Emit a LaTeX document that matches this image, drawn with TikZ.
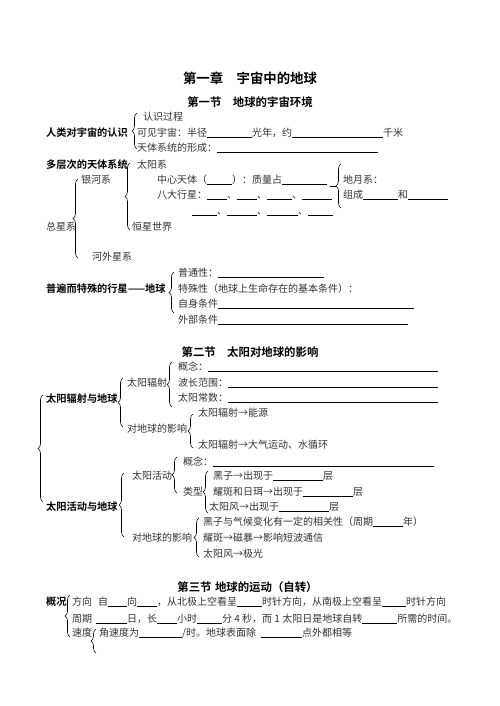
\documentclass[tikz,border=0pt]{standalone}
\usepackage{fontspec}
\setmainfont{Noto Sans CJK SC}[BoldFont={Noto Sans CJK SC Bold}]
\usetikzlibrary{decorations.pathreplacing}
\newcommand\uln[1]{{\color{black}\rule[-1.3pt]{#1pt}{0.7pt}}}
\tikzset{
  txt/.style={anchor=west,inner sep=0pt,text height=8.8pt,text depth=1.2pt,
    font=\fontsize{10}{12}\selectfont,text=black!80},
  hd/.style={anchor=west,inner sep=0pt,text height=9pt,text depth=1.2pt,
    font=\fontsize{10.2}{12}\selectfont\bfseries},
  ttl/.style={inner sep=0pt,font=\fontsize{13.4}{16}\selectfont\bfseries},
  sec/.style={inner sep=0pt,font=\fontsize{11.4}{14}\selectfont\bfseries},
  brc/.style={decorate,decoration={brace,amplitude=5pt},line width=0.6pt},
}
\begin{document}
\begin{tikzpicture}[x=1pt,y=-1pt]
\useasboundingbox[fill=white] (0,0) rectangle (500,706);
%titles
\node[ttl] (chap) at (250,78) {第一章\hspace{1em}宇宙中的地球};
\node[sec] (secA) at (250,102) {第一节\hspace{1em}地球的宇宙环境};
\node[sec] (secB) at (250,352) {第二节\hspace{1em}太阳对地球的影响};
\node[sec] (secC) at (247.5,587) {第三节\hspace{0.3em}地球的运动（自转）};
%section 1
\node[hd] (know) at (46,133) {人类对宇宙的认识};
\node[txt] (proc) at (143,117) {认识过程};
\node[txt] (vis) at (137,133) {可见宇宙：半径\uln{45}光年，约\uln{91}千米};
\node[txt] (form) at (137,148) {天体系统的形成：\uln{161}};
\node[hd] (multi) at (46,165) {多层次的天体系统};
\node[txt] (solar) at (137,165) {太阳系};
\node[txt] (centre) at (157,180) {中心天体（\uln{25}）：质量占\uln{45}};
\node[txt] (planet) at (157,195) {八大行星：\uln{20}、\uln{20}、\uln{25}、\uln{30}};
\node[txt] (planetB) at (192,211) {\uln{25}、\uln{30}、\uln{31}、\uln{25}};
\node[txt] (emoon) at (343,180) {地月系：};
\node[txt] (emoonB) at (343,195) {组成\uln{35}和\uln{40}};
\node[txt] (galaxy) at (81,180) {银河系};
\node[txt] (universe) at (46,227) {总星系};
\node[txt] (stars) at (132,227) {恒星世界};
\node[txt] (extra) at (92,257) {河外星系};
\node[hd] (earth) at (46,289) {普遍而特殊的行星——地球};
\node[txt] (common) at (178,273) {普通性：\uln{106}};
\node[txt] (special) at (178,289) {特殊性（地球上生命存在的基本条件）：};
\node[txt] (self) at (178,304) {自身条件\uln{196}};
\node[txt] (outer) at (178,320) {外部条件\uln{190}};
%section 2
\node[hd] (radE) at (46,399) {太阳辐射与地球};
\node[txt] (rad) at (127,383) {太阳辐射};
\node[txt] (rconc) at (178,367) {概念：\uln{230}};
\node[txt] (wave) at (178,383) {波长范围：\uln{210}};
\node[txt] (const) at (178,398) {太阳常数：\uln{210}};
\node[txt] (reff) at (127,429) {对地球的影响};
\node[txt] (energy) at (198,413) {太阳辐射→能源};
\node[txt] (atmo) at (198,445) {太阳辐射→大气运动、水循环};
\node[hd] (actE) at (46,507) {太阳活动与地球};
\node[txt] (act) at (132,476) {太阳活动};
\node[txt] (aconc) at (183,462) {概念：\uln{221}};
\node[txt] (type) at (183,492) {类型};
\node[txt] (spot) at (213,476) {黑子→出现于\uln{50}层};
\node[txt] (flare) at (213,492) {耀斑和日珥→出现于\uln{50}层};
\node[txt] (wind) at (209,507) {太阳风→出现于\uln{50}层};
\node[txt] (aeff) at (132,538) {对地球的影响};
\node[txt] (climate) at (203,522) {黑子与气候变化有一定的相关性（周期\uln{30}年）};
\node[txt] (radio) at (203,538) {耀斑→磁暴→影响短波通信};
\node[txt] (aurora) at (203,554) {太阳风→极光};
%section 3
\node[hd] (overview) at (46,602) {概况};
\node[txt] (dir) at (72,602) {方向\hspace{6pt}自\uln{19}向\uln{20}，从北极上空看呈\uln{25}时针方向，从南极上空看呈\uln{24}时针方向};
\node[txt] (period) at (72,619) {周期\hspace{4pt}\uln{31}日，长\uln{20}小时\uln{25}分 4 秒，而 1 太阳日是地球自转\uln{35}所需的时间。};
\node[txt] (speed) at (72,633) {速度};
\node[txt] (ang) at (99,633) {角速度为\uln{43}/时。地球表面除\hspace{5pt}\uln{41}点外都相等};
%braces
\foreach \x/\t/\b in {137/113/149, 130/163/230, 341/164/208, 78/179/258,
  174/272/313, 43/395/502, 123/378/427, 172/362/407, 193/414/448,
  124/473/537, 177/457/493, 208/471/513, 199/518/557, 70/595/637, 96/629/653}
  \draw[brc] (\x,\b)--(\x,\t);
\draw[line width=0.6pt] (330,186)--(336,186);
\end{tikzpicture}
\end{document}
